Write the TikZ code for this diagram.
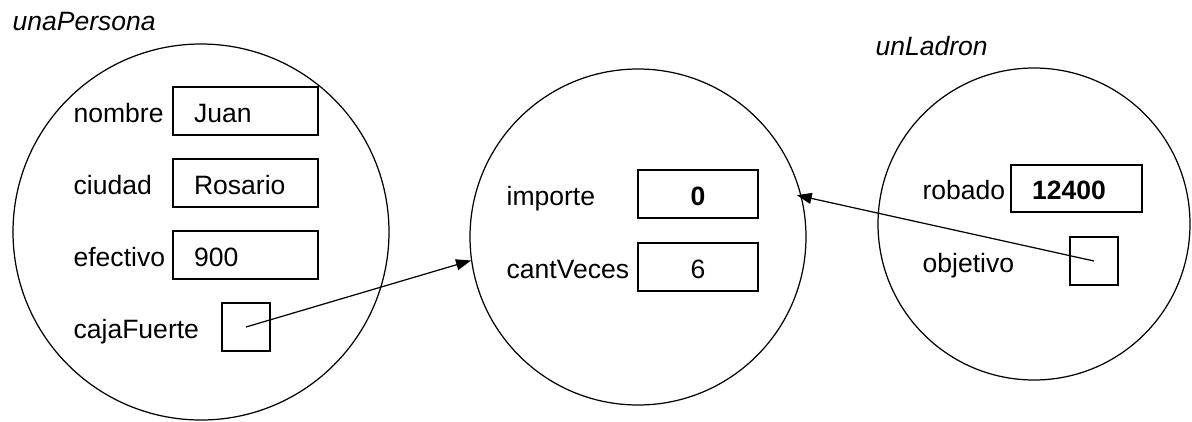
\documentclass[tikz,border=0pt]{standalone}
\usepackage{fontspec}
\setmainfont{Liberation Sans}
\usetikzlibrary{arrows.meta,positioning}

\begin{document}
\begin{tikzpicture}
[draw=black, line width=0.7pt, >={Triangle[length=3mm,width=2.2mm]},
font=\fontsize{15.1}{17}\selectfont,
objeto/.style={circle, draw, inner sep=0pt},
titulo/.style={anchor=base west, inner sep=0pt, font=\fontsize{15.1}{17}\selectfont\itshape},
campo/.style={anchor=base west, inner sep=0pt},
valor/.style={rectangle, draw, line width=1.1pt, inner ysep=0pt, inner xsep=0.42cm, minimum height=0.96cm, text width=#1, align=left, text height=0.5cm, text depth=0.06cm},
valorc/.style={rectangle, draw, line width=1.1pt, inner sep=0pt, minimum width=2.4cm, minimum height=0.96cm, text height=0.5cm, text depth=0.06cm},
ref/.style={rectangle, draw, line width=1.1pt, inner sep=0pt, minimum size=0.96cm}]

\useasboundingbox (0,0) rectangle (23.84,-8.42);

% unaPersona
\node[titulo] (tPersona) at (0.24,-0.61) {unaPersona};
\node[objeto, minimum size=7.52cm] (persona) at (4.02,-4.64) {};

\node[campo] (cNombre) at (1.46,-2.44) {nombre};
\node[valor=2.06cm] (vNombre) at (4.91,-2.22) {Juan};
\node[campo] (cCiudad) at (1.46,-3.88) {ciudad};
\node[valor=2.06cm] (vCiudad) at (4.91,-3.66) {Rosario};
\node[campo] (cEfectivo) at (1.46,-5.32) {efectivo};
\node[valor=2.06cm] (vEfectivo) at (4.91,-5.10) {900};
\node[campo] (cCaja) at (1.46,-6.76) {cajaFuerte};
\node[ref] (rCaja) at (4.92,-6.54) {};

% caja fuerte
\node[objeto, minimum size=6.72cm] (caja) at (12.76,-4.74) {};

\node[campo] (cImporte) at (10.12,-4.10) {importe};
\node[valorc] (vImporte) at (13.96,-3.88) {\textbf{0}};
\node[campo] (cVeces) at (10.12,-5.56) {cantVeces};
\node[valorc] (vVeces) at (13.96,-5.34) {6};

% unLadron
\node[titulo] (tLadron) at (17.5,-1.10) {unLadron};
\node[objeto, minimum size=6.24cm] (ladron) at (20.68,-4.48) {};

\node[campo] (cRobado) at (18.44,-3.99) {robado};
\node[valor=1.78cm, minimum height=0.94cm] (vRobado) at (21.53,-3.77) {\textbf{12400}};
\node[campo] (cObjetivo) at (18.44,-5.44) {objetivo};
\node[ref] (rObjetivo) at (21.88,-5.22) {};

\draw[->] (rCaja.center) -- (caja.188);
\draw[->, shorten >=-0.1cm] (rObjetivo.center) -- (caja.14);

\end{tikzpicture}
\end{document}
